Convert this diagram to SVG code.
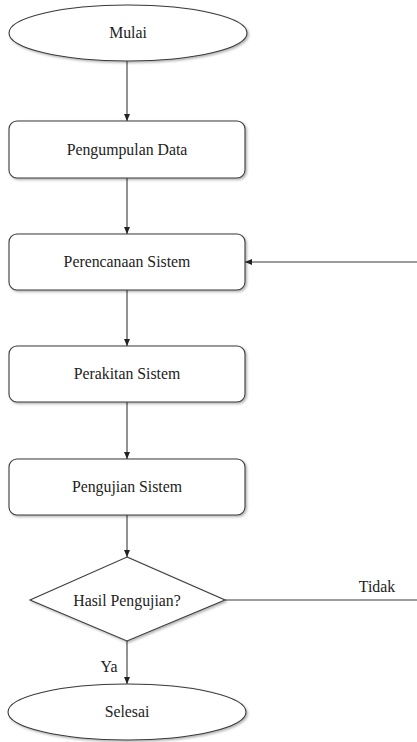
<svg xmlns="http://www.w3.org/2000/svg" width="417" height="742" viewBox="0 0 417 742">
<style>
.shape{fill:#fff;stroke:#3a3a3a;stroke-width:1.1;filter:url(#sh)}
.lbl{font-family:'Liberation Serif','DejaVu Serif',serif;font-size:15.8px;fill:#222;text-anchor:middle}
.edge{stroke:#3a3a3a;stroke-width:1.1;fill:none}
</style>
<defs>
<filter id="sh" x="-10%" y="-10%" width="120%" height="130%">
<feDropShadow dx="1.5" dy="1.5" stdDeviation="1" flood-color="#000" flood-opacity="0.3"/>
</filter>
<marker id="ah" markerWidth="8" markerHeight="8" refX="7" refY="4" orient="auto" markerUnits="userSpaceOnUse">
<path d="M0,1 L7,4 L0,7 Z" fill="#222"/>
</marker>
</defs>
<g id="connectors">
<line class="edge" x1="127" y1="61" x2="127" y2="121" marker-end="url(#ah)"/>
<line class="edge" x1="127" y1="178" x2="127" y2="234" marker-end="url(#ah)"/>
<line class="edge" x1="127" y1="290" x2="127" y2="346" marker-end="url(#ah)"/>
<line class="edge" x1="127" y1="402" x2="127" y2="459" marker-end="url(#ah)"/>
<line class="edge" x1="127" y1="515" x2="127" y2="557" marker-end="url(#ah)"/>
<line class="edge" x1="127" y1="641" x2="127" y2="684" marker-end="url(#ah)"/>
<polyline class="edge" points="225,600 417,600"/>
<line class="edge" x1="417" y1="262" x2="245" y2="262" marker-end="url(#ah)"/>
<text class="lbl" x="377" y="592">Tidak</text>
<text class="lbl" x="109" y="672">Ya</text>
</g>
<g id="mulai">
<ellipse class="shape" cx="128" cy="33" rx="119" ry="28"/>
<text class="lbl" x="128" y="38">Mulai</text>
</g>
<g id="pengumpulan">
<rect class="shape" x="9" y="121" width="236" height="57" rx="8"/>
<text class="lbl" x="127" y="155">Pengumpulan Data</text>
</g>
<g id="perencanaan">
<rect class="shape" x="9" y="234" width="236" height="56" rx="8"/>
<text class="lbl" x="127" y="267">Perencanaan Sistem</text>
</g>
<g id="perakitan">
<rect class="shape" x="9" y="346" width="236" height="56" rx="8"/>
<text class="lbl" x="127" y="379">Perakitan Sistem</text>
</g>
<g id="pengujian">
<rect class="shape" x="9" y="459" width="236" height="56" rx="8"/>
<text class="lbl" x="127" y="492">Pengujian Sistem</text>
</g>
<g id="hasil">
<polygon class="shape" points="127,557 225,600 127,641 30,600"/>
<text class="lbl" x="127" y="606">Hasil Pengujian?</text>
</g>
<g id="selesai">
<ellipse class="shape" cx="127" cy="712" rx="119" ry="28"/>
<text class="lbl" x="127" y="717">Selesai</text>
</g>
</svg>
